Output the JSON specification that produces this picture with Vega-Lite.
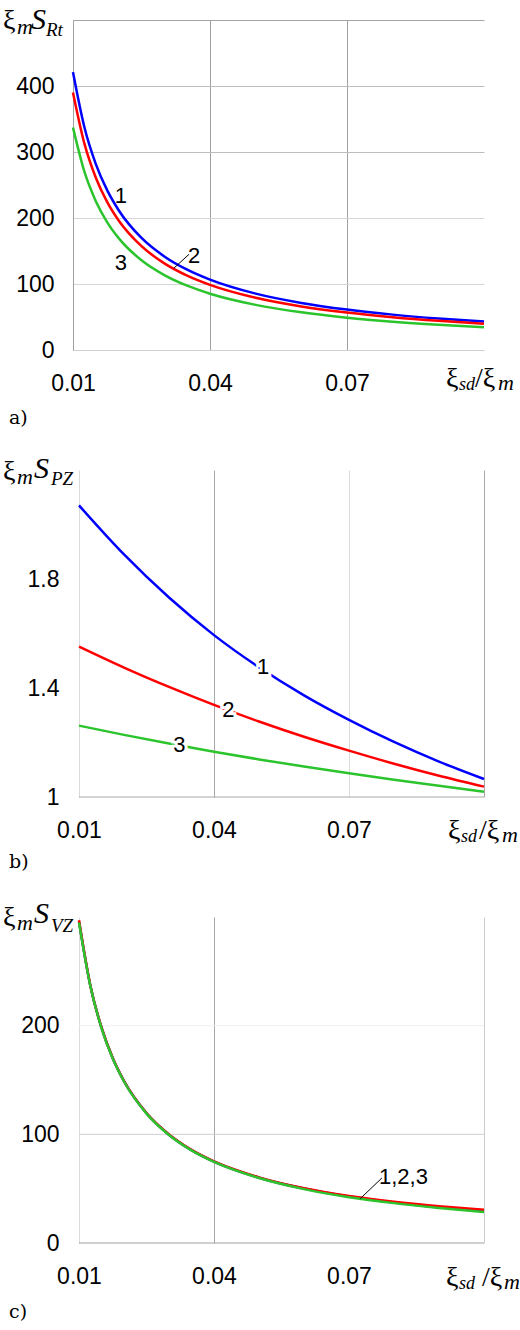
{
  "$schema": "https://vega.github.io/schema/vega-lite/v6.json",
  "background": "white",
  "padding": {"left": 2, "top": 5, "right": 0, "bottom": 0},
  "config": {
    "view": {"stroke": null},
    "axis": {
      "labelFont": "Liberation Sans",
      "labelFontSize": 23,
      "labelColor": "#000",
      "ticks": false,
      "labelFlush": false,
      "labelOverlap": false,
      "labelBound": false,
      "gridWidth": 1,
      "domainWidth": 1
    },
    "text": {"font": "Liberation Serif", "align": "left", "baseline": "alphabetic", "color": "#000"}
  },
  "vconcat": [
    {
      "width": 411,
      "height": 330,
      "data": {
        "values": [
          {"x": 0.01, "y": 421, "s": "1"}, {"x": 0.0125, "y": 337.5, "s": "1"}, {"x": 0.015, "y": 281.7, "s": "1"},
          {"x": 0.0175, "y": 241.8, "s": "1"}, {"x": 0.02, "y": 211.8, "s": "1"}, {"x": 0.025, "y": 169.8, "s": "1"},
          {"x": 0.03, "y": 141.8, "s": "1"}, {"x": 0.035, "y": 121.7, "s": "1"}, {"x": 0.04, "y": 106.6, "s": "1"},
          {"x": 0.05, "y": 85.4, "s": "1"}, {"x": 0.06, "y": 71.3, "s": "1"}, {"x": 0.07, "y": 61.2, "s": "1"},
          {"x": 0.08, "y": 53.6, "s": "1"}, {"x": 0.09, "y": 47.7, "s": "1"}, {"x": 0.1, "y": 43, "s": "1"},
          {"x": 0.01, "y": 390, "s": "2"}, {"x": 0.0125, "y": 312.6, "s": "2"}, {"x": 0.015, "y": 261, "s": "2"},
          {"x": 0.0175, "y": 224, "s": "2"}, {"x": 0.02, "y": 196.2, "s": "2"}, {"x": 0.025, "y": 157.3, "s": "2"},
          {"x": 0.03, "y": 131.3, "s": "2"}, {"x": 0.035, "y": 112.7, "s": "2"}, {"x": 0.04, "y": 98.7, "s": "2"},
          {"x": 0.05, "y": 79.1, "s": "2"}, {"x": 0.06, "y": 66, "s": "2"}, {"x": 0.07, "y": 56.7, "s": "2"},
          {"x": 0.08, "y": 49.7, "s": "2"}, {"x": 0.09, "y": 44.2, "s": "2"}, {"x": 0.1, "y": 39.8, "s": "2"},
          {"x": 0.01, "y": 337, "s": "3"}, {"x": 0.0125, "y": 270.1, "s": "3"}, {"x": 0.015, "y": 225.5, "s": "3"},
          {"x": 0.0175, "y": 193.5, "s": "3"}, {"x": 0.02, "y": 169.5, "s": "3"}, {"x": 0.025, "y": 135.9, "s": "3"},
          {"x": 0.03, "y": 113.5, "s": "3"}, {"x": 0.035, "y": 97.4, "s": "3"}, {"x": 0.04, "y": 85.3, "s": "3"},
          {"x": 0.05, "y": 68.4, "s": "3"}, {"x": 0.06, "y": 57.1, "s": "3"}, {"x": 0.07, "y": 49, "s": "3"},
          {"x": 0.08, "y": 42.9, "s": "3"}, {"x": 0.09, "y": 38.2, "s": "3"}, {"x": 0.1, "y": 34.4, "s": "3"}
        ]
      },
      "encoding": {
        "x": {
          "field": "x", "type": "quantitative",
          "scale": {"domain": [0.01, 0.1], "nice": false, "zero": false},
          "axis": {"title": null, "values": [0.01, 0.04, 0.07], "format": ".2f", "labelPadding": 22,
                   "grid": true, "gridColor": "#a0a0a0", "domainColor": "#d0d0d0"}
        },
        "y": {
          "field": "y", "type": "quantitative",
          "scale": {"domain": [0, 500], "nice": false},
          "axis": {"title": null, "values": [0, 100, 200, 300, 400, 500],
                   "labelExpr": "datum.value == 500 ? '' : datum.label", "labelPadding": 19,
                   "grid": true,
                   "gridColor": {"condition": [{"test": "datum.value == 500", "value": "#a4a4a4"},
                                               {"test": "datum.value >= 300", "value": "#bdbdbd"}],
                                 "value": "#d6d6d6"},
                   "domainColor": "#a0a0a0"}
        }
      },
      "layer": [
        {
          "mark": {"type": "line", "strokeWidth": 2.5, "interpolate": "monotone"},
          "encoding": {
            "color": {"field": "s", "type": "nominal",
                      "scale": {"domain": ["1", "2", "3"], "range": ["#0000ff", "#ff0000", "#2cc42c"]},
                      "legend": null}
          }
        },
        {
          "data": {"values": [{"x": 0.0205, "y": 233, "t": "1"}, {"x": 0.0365, "y": 142, "t": "2"}, {"x": 0.0205, "y": 132, "t": "3"}]},
          "mark": {"type": "text", "font": "Liberation Sans", "fontSize": 22, "align": "center", "baseline": "middle"},
          "encoding": {"text": {"field": "t"}}
        },
        {
          "data": {"values": [{"x": 0.0321, "y": 124, "x2": 0.0354, "y2": 145}]},
          "mark": {"type": "rule", "color": "#000", "strokeWidth": 1},
          "encoding": {"x2": {"field": "x2"}, "y2": {"field": "y2"}}
        },
        {
          "data": {"values": [{"x": 0.01, "y": 500}]},
          "layer": [
            {"mark": {"type": "text", "text": "ξ", "fontSize": 28, "dx": -70, "dy": 9}},
            {"mark": {"type": "text", "text": "m", "fontSize": 22, "fontStyle": "italic", "dx": -56, "dy": 14}},
            {"mark": {"type": "text", "text": "S", "fontSize": 30, "fontStyle": "italic", "dx": -42, "dy": 9}},
            {"mark": {"type": "text", "text": "Rt", "fontSize": 19, "fontStyle": "italic", "dx": -27, "dy": 16}}
          ]
        },
        {
          "data": {"values": [{"x": 0.1, "y": 0}]},
          "layer": [
            {"mark": {"type": "text", "text": "ξ", "fontSize": 28, "dx": -38, "dy": 37}},
            {"mark": {"type": "text", "text": "sd", "fontSize": 18, "fontStyle": "italic", "dx": -25, "dy": 40}},
            {"mark": {"type": "text", "text": "/ξ", "fontSize": 28, "dx": -9, "dy": 37}},
            {"mark": {"type": "text", "text": "m", "fontSize": 22, "fontStyle": "italic", "dx": 14, "dy": 40}}
          ]
        },
        {
          "data": {"values": [{"x": 0.01, "y": 0}]},
          "mark": {"type": "text", "text": "a)", "font": "DejaVu Serif", "fontSize": 19, "dx": -64, "dy": 74}
        }
      ]
    },
    {
      "width": 411,
      "height": 327,
      "data": {
        "values": [
          {"x": 0.01, "y": 2.07, "s": "1"}, {"x": 0.02, "y": 1.89, "s": "1"}, {"x": 0.03, "y": 1.732, "s": "1"},
          {"x": 0.04, "y": 1.594, "s": "1"}, {"x": 0.05, "y": 1.476, "s": "1"}, {"x": 0.06, "y": 1.373, "s": "1"},
          {"x": 0.07, "y": 1.283, "s": "1"}, {"x": 0.08, "y": 1.202, "s": "1"}, {"x": 0.09, "y": 1.13, "s": "1"},
          {"x": 0.1, "y": 1.066, "s": "1"},
          {"x": 0.01, "y": 1.552, "s": "2"}, {"x": 0.02, "y": 1.475, "s": "2"}, {"x": 0.03, "y": 1.404, "s": "2"},
          {"x": 0.04, "y": 1.338, "s": "2"}, {"x": 0.05, "y": 1.277, "s": "2"}, {"x": 0.06, "y": 1.221, "s": "2"},
          {"x": 0.07, "y": 1.17, "s": "2"}, {"x": 0.08, "y": 1.122, "s": "2"}, {"x": 0.09, "y": 1.078, "s": "2"},
          {"x": 0.1, "y": 1.038, "s": "2"},
          {"x": 0.01, "y": 1.262, "s": "3"}, {"x": 0.02, "y": 1.228, "s": "3"}, {"x": 0.03, "y": 1.196, "s": "3"},
          {"x": 0.04, "y": 1.166, "s": "3"}, {"x": 0.05, "y": 1.138, "s": "3"}, {"x": 0.06, "y": 1.112, "s": "3"},
          {"x": 0.07, "y": 1.087, "s": "3"}, {"x": 0.08, "y": 1.063, "s": "3"}, {"x": 0.09, "y": 1.041, "s": "3"},
          {"x": 0.1, "y": 1.019, "s": "3"}
        ]
      },
      "encoding": {
        "x": {
          "field": "x", "type": "quantitative",
          "scale": {"domain": [0.008667, 0.1], "nice": false, "zero": false},
          "axis": {"title": null, "values": [0.01, 0.04, 0.07, 0.1],
                   "labelExpr": "datum.value > 0.09 ? '' : format(datum.value, '.2f')", "labelPadding": 22,
                   "grid": true,
                   "gridColor": {"condition": {"test": "(datum.value > 0.035 && datum.value < 0.045) || datum.value > 0.095", "value": "#a8a8a8"},
                                 "value": "#dadada"},
                   "domain": false}
        },
        "y": {
          "field": "y", "type": "quantitative",
          "scale": {"domain": [1, 2.2], "nice": false, "zero": false},
          "axis": {"title": null, "values": [1, 1.4, 1.8], "format": "~g", "labelPadding": 14,
                   "grid": false, "domain": false}
        }
      },
      "layer": [
        {
          "data": {"values": [{"x": 0.01, "x2": 0.1, "y": 1}]},
          "mark": {"type": "rule", "color": "#a8a8a8", "strokeWidth": 1},
          "encoding": {"x2": {"field": "x2"}}
        },
        {
          "mark": {"type": "line", "strokeWidth": 2.5, "interpolate": "monotone"},
          "encoding": {
            "color": {"field": "s", "type": "nominal",
                      "scale": {"domain": ["1", "2", "3"], "range": ["#0000ff", "#ff0000", "#2cc42c"]},
                      "legend": null}
          }
        },
        {
          "data": {"values": [{"x": 0.0509, "y": 1.477, "t": "1"}, {"x": 0.0432, "y": 1.319, "t": "2"}, {"x": 0.0323, "y": 1.191, "t": "3"}]},
          "layer": [
            {"mark": {"type": "text", "font": "Liberation Sans", "fontSize": 22, "align": "center", "baseline": "middle",
                      "color": "white", "stroke": "white", "strokeWidth": 6}},
            {"mark": {"type": "text", "font": "Liberation Sans", "fontSize": 22, "align": "center", "baseline": "middle"}}
          ],
          "encoding": {"text": {"field": "t"}}
        },
        {
          "data": {"values": [{"x": 0.01, "y": 2.2}]},
          "layer": [
            {"mark": {"type": "text", "text": "ξ", "fontSize": 28, "dx": -76, "dy": 10}},
            {"mark": {"type": "text", "text": "m", "fontSize": 22, "fontStyle": "italic", "dx": -62, "dy": 14}},
            {"mark": {"type": "text", "text": "S", "fontSize": 30, "fontStyle": "italic", "dx": -45, "dy": 8}},
            {"mark": {"type": "text", "text": "PZ", "fontSize": 19, "fontStyle": "italic", "dx": -28, "dy": 15}}
          ]
        },
        {
          "data": {"values": [{"x": 0.1, "y": 1}]},
          "layer": [
            {"mark": {"type": "text", "text": "ξ", "fontSize": 28, "dx": -36, "dy": 42}},
            {"mark": {"type": "text", "text": "sd", "fontSize": 18, "fontStyle": "italic", "dx": -23, "dy": 45}},
            {"mark": {"type": "text", "text": "/ξ", "fontSize": 28, "dx": -5, "dy": 42}},
            {"mark": {"type": "text", "text": "m", "fontSize": 22, "fontStyle": "italic", "dx": 18, "dy": 45}}
          ]
        },
        {
          "data": {"values": [{"x": 0.01, "y": 1}]},
          "mark": {"type": "text", "text": "b)", "font": "DejaVu Serif", "fontSize": 19, "dx": -70, "dy": 71}
        }
      ]
    },
    {
      "width": 411,
      "height": 326,
      "data": {
        "values": [
          {"x": 0.01, "y": 296, "s": "1"}, {"x": 0.0125, "y": 237.3, "s": "1"}, {"x": 0.015, "y": 198.1, "s": "1"},
          {"x": 0.0175, "y": 170, "s": "1"}, {"x": 0.02, "y": 148.9, "s": "1"}, {"x": 0.025, "y": 119.4, "s": "1"},
          {"x": 0.03, "y": 99.7, "s": "1"}, {"x": 0.035, "y": 85.5, "s": "1"}, {"x": 0.04, "y": 74.9, "s": "1"},
          {"x": 0.05, "y": 60.1, "s": "1"}, {"x": 0.06, "y": 50.1, "s": "1"}, {"x": 0.07, "y": 42.7, "s": "1"},
          {"x": 0.08, "y": 37.3, "s": "1"}, {"x": 0.09, "y": 33, "s": "1"}, {"x": 0.1, "y": 29.4, "s": "1"},
          {"x": 0.01, "y": 297, "s": "2"}, {"x": 0.0125, "y": 237.5, "s": "2"}, {"x": 0.015, "y": 198.4, "s": "2"},
          {"x": 0.0175, "y": 170.2, "s": "2"}, {"x": 0.02, "y": 149.1, "s": "2"}, {"x": 0.025, "y": 119.6, "s": "2"},
          {"x": 0.03, "y": 99.9, "s": "2"}, {"x": 0.035, "y": 85.7, "s": "2"}, {"x": 0.04, "y": 75.1, "s": "2"},
          {"x": 0.05, "y": 60.4, "s": "2"}, {"x": 0.06, "y": 50.4, "s": "2"}, {"x": 0.07, "y": 43.3, "s": "2"},
          {"x": 0.08, "y": 38, "s": "2"}, {"x": 0.09, "y": 33.9, "s": "2"}, {"x": 0.1, "y": 30.5, "s": "2"},
          {"x": 0.01, "y": 295, "s": "3"}, {"x": 0.0125, "y": 237, "s": "3"}, {"x": 0.015, "y": 197.8, "s": "3"},
          {"x": 0.0175, "y": 169.7, "s": "3"}, {"x": 0.02, "y": 148.6, "s": "3"}, {"x": 0.025, "y": 119.1, "s": "3"},
          {"x": 0.03, "y": 99.4, "s": "3"}, {"x": 0.035, "y": 85.2, "s": "3"}, {"x": 0.04, "y": 74.6, "s": "3"},
          {"x": 0.05, "y": 59.8, "s": "3"}, {"x": 0.06, "y": 49.6, "s": "3"}, {"x": 0.07, "y": 42.2, "s": "3"},
          {"x": 0.08, "y": 36.7, "s": "3"}, {"x": 0.09, "y": 32.3, "s": "3"}, {"x": 0.1, "y": 28.4, "s": "3"}
        ]
      },
      "encoding": {
        "x": {
          "field": "x", "type": "quantitative",
          "scale": {"domain": [0.008667, 0.1], "nice": false, "zero": false},
          "axis": {"title": null, "values": [0.01, 0.04, 0.07, 0.1],
                   "labelExpr": "datum.value > 0.09 ? '' : format(datum.value, '.2f')", "labelPadding": 22,
                   "grid": true,
                   "gridColor": {"condition": [{"test": "datum.value > 0.065 && datum.value < 0.075", "value": "rgba(0,0,0,0)"},
                                               {"test": "datum.value > 0.035 && datum.value < 0.045", "value": "#a8a8a8"},
                                               {"test": "datum.value > 0.095", "value": "#cccccc"}],
                                 "value": "#dcdcdc"},
                   "domain": false}
        },
        "y": {
          "field": "y", "type": "quantitative",
          "scale": {"domain": [0, 300], "nice": false},
          "axis": {"title": null, "values": [0, 100, 200], "labelPadding": 14, "grid": false, "domain": false}
        }
      },
      "layer": [
        {
          "data": {"values": [{"x": 0.01, "x2": 0.1, "y": 200}]},
          "mark": {"type": "rule", "color": "#f0f0f0", "strokeWidth": 1},
          "encoding": {"x2": {"field": "x2"}}
        },
        {
          "data": {"values": [{"x": 0.01, "x2": 0.1, "y": 100}]},
          "mark": {"type": "rule", "color": "#cfcfcf", "strokeWidth": 1},
          "encoding": {"x2": {"field": "x2"}}
        },
        {
          "data": {"values": [{"x": 0.01, "x2": 0.1, "y": 0}]},
          "mark": {"type": "rule", "color": "#a0a0a0", "strokeWidth": 1},
          "encoding": {"x2": {"field": "x2"}}
        },
        {
          "mark": {"type": "line", "strokeWidth": 2.5, "interpolate": "monotone"},
          "encoding": {
            "color": {"field": "s", "type": "nominal",
                      "scale": {"domain": ["1", "2", "3"], "range": ["#0000ff", "#ff0000", "#2cc42c"]},
                      "legend": null}
          }
        },
        {
          "data": {"values": [{"x": 0.0821, "y": 60.7, "t": "1,2,3"}]},
          "mark": {"type": "text", "font": "Liberation Sans", "fontSize": 22, "align": "center", "baseline": "middle"},
          "encoding": {"text": {"field": "t"}}
        },
        {
          "data": {"values": [{"x": 0.0725, "y": 40.8, "x2": 0.0773, "y2": 59.8}]},
          "mark": {"type": "rule", "color": "#000", "strokeWidth": 1},
          "encoding": {"x2": {"field": "x2"}, "y2": {"field": "y2"}}
        },
        {
          "data": {"values": [{"x": 0.01, "y": 300}]},
          "layer": [
            {"mark": {"type": "text", "text": "ξ", "fontSize": 28, "dx": -76, "dy": 9}},
            {"mark": {"type": "text", "text": "m", "fontSize": 22, "fontStyle": "italic", "dx": -62, "dy": 13}},
            {"mark": {"type": "text", "text": "S", "fontSize": 30, "fontStyle": "italic", "dx": -45, "dy": 6}},
            {"mark": {"type": "text", "text": "VZ", "fontSize": 19, "fontStyle": "italic", "dx": -28, "dy": 15}}
          ]
        },
        {
          "data": {"values": [{"x": 0.1, "y": 0}]},
          "layer": [
            {"mark": {"type": "text", "text": "ξ", "fontSize": 28, "dx": -38, "dy": 43}},
            {"mark": {"type": "text", "text": "sd", "fontSize": 18, "fontStyle": "italic", "dx": -25, "dy": 46}},
            {"mark": {"type": "text", "text": "/ξ", "fontSize": 28, "dx": -2, "dy": 43}},
            {"mark": {"type": "text", "text": "m", "fontSize": 22, "fontStyle": "italic", "dx": 20, "dy": 46}}
          ]
        },
        {
          "data": {"values": [{"x": 0.01, "y": 0}]},
          "mark": {"type": "text", "text": "c)", "font": "DejaVu Serif", "fontSize": 19, "dx": -70, "dy": 75}
        }
      ]
    }
  ],
  "spacing": 120,
  "bounds": "flush"
}
